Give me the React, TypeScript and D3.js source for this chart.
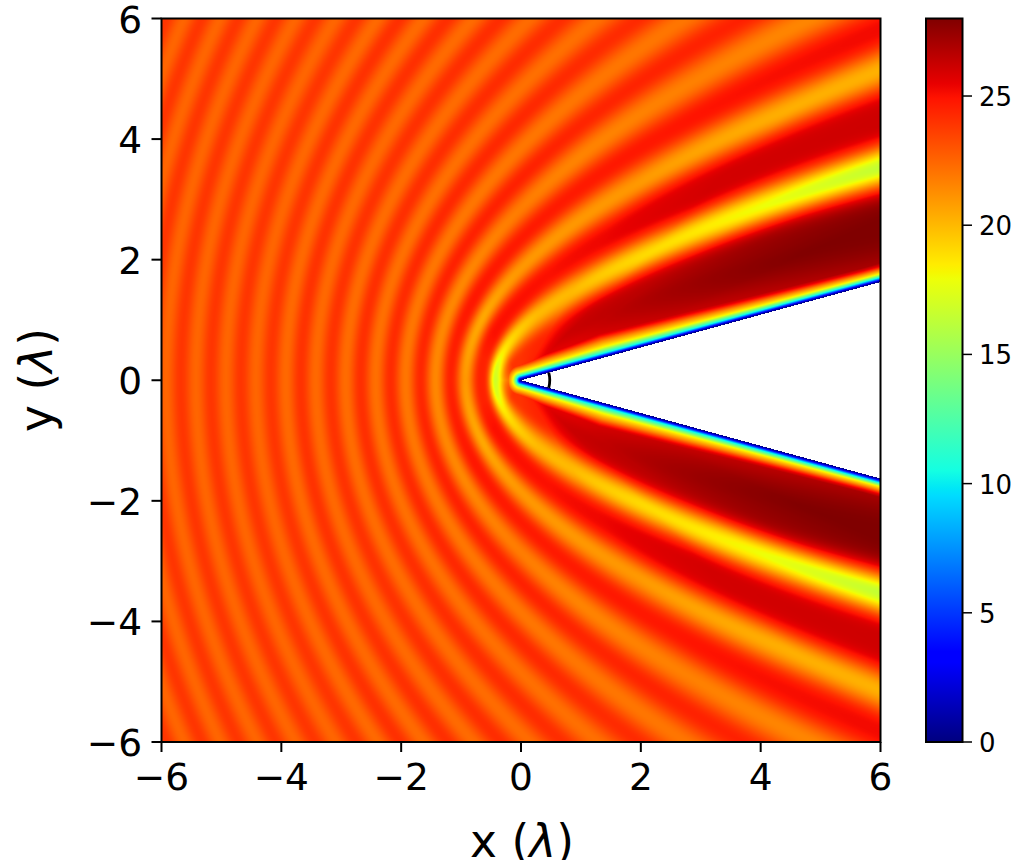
import React, { useMemo } from "react";
import * as d3 from "d3";

// Fringe values (alternating crest, trough, crest, ...) along rays from the apex.
const rayAngles = [16, 20, 24, 30, 36, 45, 60, 75, 90, 120, 150, 180];
const rayShifts = [0.12, 0.13, 0.13, 0.12, 0.08, 0.02, 0, 0, 0, 0, 0, 0];
const rayApex = [25, 25, 25, 25, 25, 25, 24.5, 24.2, 24, 24, 23, 22];
const ray016 = [27.8, 16, 26.5, 20, 25.5, 21.5];
const ray020 = [28, 16, 26.5, 20, 25.5, 21.5];
const ray024 = [28, 16, 26.5, 20, 25.5, 21.5];
const ray030 = [27.3, 16.3, 26.5, 20, 25.5, 21.5];
const ray036 = [26.6, 18, 26.1, 20, 25.5, 21.5];
const ray045 = [26.2, 19, 26, 20.3, 25.2, 21.4, 24.8, 22];
const ray060 = [24.5, 20, 25.3, 21, 24.8, 21.7, 24.5, 22];
const ray075 = [24.2, 20, 25, 21, 24.7, 21.6, 24.4, 22, 24.2, 22.2, 24.1, 22.3];
const ray090 = [24, 19.5, 25, 21, 24.7, 21.8, 24.5, 22, 24.3, 22.2, 24.2, 22.3];
const ray120 = [24, 18.5, 25, 20.5, 24.8, 21.5, 24.5, 22, 24.3, 22.2, 24.1, 22.3, 24, 22.4, 24, 22.4, 24, 22.4, 23.9, 22.5];
const ray150 = [23, 17.3, 24.5, 20.7, 24.6, 21.5, 24.4, 22, 24.2, 22.2, 24.1, 22.3, 24, 22.4, 24, 22.4, 23.9, 22.5, 23.9, 22.5];
const ray180 = [22, 16.8, 24.5, 21, 24.5, 21.5, 24.3, 22, 24.2, 22.2, 24.1, 22.3, 24, 22.4, 24, 22.4, 23.9, 22.5, 23.9, 22.5];
const rayValues = [ray016, ray020, ray024, ray030, ray036, ray045, ray060, ray075, ray090, ray120, ray150, ray180];

// Values read across the thin blue-to-red edge along the wedge: distance from surface (wavelengths) and value.
const edgeDistance = [0, 0.02, 0.04, 0.07, 0.1, 0.13, 0.19, 0.24, 0.3, 0.4, 0.6];
const edgeValue = [0, 1.5, 5, 10, 14, 18, 21.5, 25, 27, 27.8, 30];
const edgeRadius = [0, 0.5, 1, 1.5, 3, 6, 8];
const edgeStretch = [1, 0.8, 0.7, 0.6, 0.7, 1, 1];
const edgeCore = 0.07;

const wedgeHalfAngle = 15.2;
const arcRadius = 0.48;

// Matplotlib "jet" colour stops.
const jetStops = [0, 0.11, 0.125, 0.34, 0.35, 0.375, 0.64, 0.65, 0.66, 0.89, 0.91, 1];
const jetColors = [
  "rgb(0,0,128)", "rgb(0,0,255)", "rgb(0,0,255)", "rgb(0,219,255)", "rgb(0,230,247)", "rgb(20,255,226)",
  "rgb(238,255,8)", "rgb(247,246,0)", "rgb(255,236,0)", "rgb(255,19,0)", "rgb(232,0,0)", "rgb(128,0,0)",
];

const xyTicks = [-6, -4, -2, 0, 2, 4, 6];
const barTicks = [0, 5, 10, 15, 20, 25];
const barMax = 28;

const FONT = "'DejaVu Sans', sans-serif";
const INK = "#000";
const left = 161.5, right = 880.5, top = 18.5, bottom = 742;
const barLeft = 926, barRight = 962.5;

const fmt = (v: number) => (v < 0 ? "\u2212" + Math.abs(v) : String(v));

function sampleRay(values: number[], shift: number, apex: number, u: number) {
  const first = 0.35 + shift;
  if (u < first) {
    const s0 = (1 - Math.cos((Math.PI * Math.max(0, u)) / first)) / 2;
    return apex + (values[0] - apex) * s0;
  }
  const pos = (u - first) / 0.5;
  const i = Math.floor(pos);
  const at = (k: number) => {
    if (k < values.length) return values[k];
    const last = values.length - 1;
    return (k - last) % 2 === 0 ? values[last] : values[last - 1];
  };
  const a = at(i), b = at(i + 1);
  const t = pos - i;
  const s = (1 - Math.cos(Math.PI * t)) / 2;
  // Deep troughs are narrower than crests in the picture; shallow ones are not.
  const e = 1 + 2 * Math.max(0, Math.min(1, (Math.abs(a - b) - 3) / 9));
  const w = i % 2 === 0 ? Math.pow(s, e) : 1 - Math.pow(1 - s, e);
  return a + (b - a) * w;
}

function buildField(
  x: d3.ScaleLinear<number, number>,
  y: d3.ScaleLinear<number, number>,
  jet: (v: number) => string
) {
  const x0 = Math.floor(left), y0 = Math.floor(top);
  const w = Math.ceil(right) - x0, h = Math.ceil(bottom) - y0;
  const canvas = document.createElement("canvas");
  canvas.width = w;
  canvas.height = h;
  const ctx = canvas.getContext("2d")!;
  const img = ctx.createImageData(w, h);
  const lut = d3.range(0, 1401).map((i) => d3.rgb(jet((i / 1400) * barMax)));
  const edge = d3.scaleLinear().domain(edgeDistance).range(edgeValue).clamp(true);
  const stretch = d3.scaleLinear().domain(edgeRadius).range(edgeStretch).clamp(true);
  const wedge = (wedgeHalfAngle * Math.PI) / 180;
  const rowIndex = d3.bisector((d: number) => d).right;
  for (let j = 0; j < h; j++) {
    const py = y.invert(y0 + j + 0.5);
    for (let i = 0; i < w; i++) {
      const px = x.invert(x0 + i + 0.5);
      const r = Math.hypot(px, py);
      const ang = Math.atan2(Math.abs(py), px);
      const o = (i + j * w) * 4;
      if (ang < wedge) continue;
      const deg = (ang * 180) / Math.PI;
      const u = r - px;
      let k = rowIndex(rayAngles, deg) - 1;
      k = Math.max(0, Math.min(rayAngles.length - 2, k));
      const f = Math.max(0, (deg - rayAngles[k]) / (rayAngles[k + 1] - rayAngles[k]));
      const a = sampleRay(rayValues[k], rayShifts[k], rayApex[k], u);
      const b = sampleRay(rayValues[k + 1], rayShifts[k + 1], rayApex[k + 1], u);
      const base = a + (b - a) * f;
      const d = ang - wedge < Math.PI / 2 ? r * Math.sin(ang - wedge) : r;
      const dEff = d < edgeCore ? d : edgeCore + (d - edgeCore) * stretch(r);
      const v = Math.max(0, Math.min(barMax, Math.min(base, edge(dEff))));
      const c = lut[Math.round((v / barMax) * 1400)];
      img.data[o] = c.r;
      img.data[o + 1] = c.g;
      img.data[o + 2] = c.b;
      img.data[o + 3] = 255;
    }
  }
  ctx.putImageData(img, 0, 0);
  return { href: canvas.toDataURL("image/png"), x0, y0, w, h };
}

export default function App() {
  const x = useMemo(() => d3.scaleLinear().domain([-6, 6]).range([left, right]), []);
  const y = useMemo(() => d3.scaleLinear().domain([-6, 6]).range([bottom, top]), []);
  const bar = useMemo(() => d3.scaleLinear().domain([0, barMax]).range([bottom, top]), []);
  const jet = useMemo(
    () =>
      d3
        .scaleLinear<string>()
        .domain(jetStops.map((s) => s * barMax))
        .range(jetColors)
        .interpolate(d3.interpolateRgb)
        .clamp(true),
    []
  );
  const field = useMemo(() => buildField(x, y, jet), [x, y, jet]);
  const pxPerUnit = x(1) - x(0);
  const wa = (wedgeHalfAngle * Math.PI) / 180;
  const arcPath = d3.arc()({
    innerRadius: arcRadius * pxPerUnit,
    outerRadius: arcRadius * pxPerUnit,
    startAngle: Math.PI / 2 - wa,
    endAngle: Math.PI / 2 + wa,
  } as any) as string;

  return (
    <svg
      width={1013}
      height={860}
      viewBox="0 0 1013 860"
      style={{ position: "absolute", left: 0, top: 0, display: "block" }}
      fontFamily={FONT}
    >
      <defs>
        <linearGradient id="jet" x1="0" y1="1" x2="0" y2="0">
          {jetStops.map((s, i) => (
            <stop key={i} offset={s} stopColor={jetColors[i]} />
          ))}
        </linearGradient>
      </defs>
      <rect width={1013} height={860} fill="#fff" />
      <image href={field.href} x={field.x0} y={field.y0} width={field.w} height={field.h} style={{ imageRendering: "pixelated" }} />
      <path d={arcPath} transform={`translate(${x(0)},${y(0)})`} fill="none" stroke={INK} strokeWidth={2.8} />
      <rect x={left} y={top} width={right - left} height={bottom - top} fill="none" stroke={INK} strokeWidth={2} />

      {xyTicks.map((t) => (
        <g key={`x${t}`}>
          <line x1={x(t)} x2={x(t)} y1={bottom} y2={bottom + 10} stroke={INK} strokeWidth={2} />
          <text x={x(t)} y={790} fontSize={37.5} textAnchor="middle" fill={INK}>{fmt(t)}</text>
        </g>
      ))}
      {xyTicks.map((t) => (
        <g key={`y${t}`}>
          <line x1={left - 10} x2={left} y1={y(t)} y2={y(t)} stroke={INK} strokeWidth={2} />
          <text x={142} y={y(t) + 14} fontSize={37.5} textAnchor="end" fill={INK}>{fmt(t)}</text>
        </g>
      ))}
      <text x={522} y={857} fontSize={45.5} textAnchor="middle" fill={INK}>
        x (<tspan fontStyle="italic">λ</tspan>)
      </text>
      <text transform={`translate(52,380) rotate(-90)`} fontSize={45.5} textAnchor="middle" fill={INK}>
        y (<tspan fontStyle="italic">λ</tspan>)
      </text>

      <rect x={barLeft} y={top} width={barRight - barLeft} height={bottom - top} fill="url(#jet)" stroke={INK} strokeWidth={2} />
      {barTicks.map((t) => (
        <g key={`b${t}`}>
          <line x1={barRight} x2={barRight + 9.5} y1={bar(t)} y2={bar(t)} stroke={INK} strokeWidth={1.5} />
          <text x={979} y={bar(t) + 10} fontSize={26} fill={INK}>{t}</text>
        </g>
      ))}
    </svg>
  );
}
